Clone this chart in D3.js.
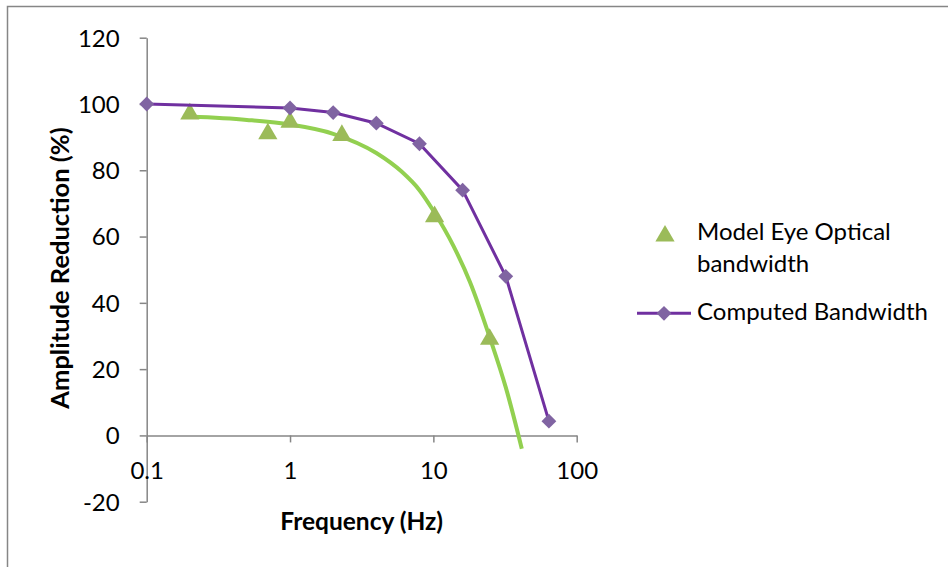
<!DOCTYPE html>
<html>
<head>
<meta charset="utf-8">
<script src="https://cdn.jsdelivr.net/npm/d3@7"></script>
<style>
  html, body { margin: 0; padding: 0; background: #fff; }
  svg { display: block; }
  text { font-family: Lato, "Open Sans", sans-serif; fill: #000; }
</style>
</head>
<body>
<svg id="chart" width="948" height="567"></svg>
<script>
// Measured points: Model Eye Optical bandwidth (triangles)
const modelFreq = [0.2, 0.7, 1, 2.3, 10.2, 24.7];
const modelAmp  = [97.0, 91.0, 94.5, 90.5, 66.0, 29.0];

// Trend curve through the model eye measurements
const trendFreq = [0.2, 0.5, 1, 2, 4, 6, 8, 10, 13.8, 18, 24.9, 32, 41.4];
const trendAmp  = [96.2, 95.2, 93.8, 91.0, 85.2, 79.6, 74.0, 67.8, 57.2, 46.3, 29.2, 14.5, -4.0];

// Computed Bandwidth (diamonds joined by a line)
const compFreq = [0.1, 1, 2, 4, 8, 16, 32, 64];
const compAmp  = [100, 98.8, 97.4, 94.2, 88.0, 74.0, 48.0, 4.3];

// Axis ticks
const yTicks = [-20, 0, 20, 40, 60, 80, 100, 120];
const xTicks = [0.1, 1, 10, 100];
const xTickLabels = ["0.1", "1", "10", "100"];

const seriesNames = ["Model Eye Optical", "bandwidth", "Computed Bandwidth"];

const AXIS = "#868686";
const PURPLE_LINE = "#7030A0";
const PURPLE_MARK = "#8064A2";
const GREEN_MARK = "#9BBB59";
const GREEN_LINE = "#92D050";
const FONT_SIZE = "24px";

const svg = d3.select("#chart");

const x = d3.scaleLog().domain([0.1, 100]).range([146.7, 576.7]);
const y = d3.scaleLinear().domain([-20, 120]).range([501.7, 37.7]);

// outer chart frame (left and top edges visible)
svg.append("path")
  .attr("d", "M7.5,567 L7.5,6.5 L948,6.5")
  .attr("fill", "none").attr("stroke", AXIS).attr("stroke-width", 1.5);

// y axis
const yAxis = svg.append("g")
  .attr("transform", `translate(${x(0.1)},0)`)
  .call(d3.axisLeft(y).tickValues(yTicks).tickFormat(d => String(d))
    .tickSize(7).tickSizeOuter(0).tickPadding(20));
yAxis.selectAll("path, line").attr("stroke", AXIS).attr("stroke-width", 1.5);
yAxis.selectAll("text").style("font-size", FONT_SIZE).style("font-family", "Lato, sans-serif")
  .attr("fill", "#000").attr("dy", "0.35em");

// x axis at zero
const xAxis = svg.append("g")
  .attr("transform", `translate(0,${y(0)})`)
  .call(d3.axisBottom(x).tickValues(xTicks).tickFormat((d, i) => xTickLabels[i])
    .tickSize(7).tickSizeOuter(0));
xAxis.selectAll("path, line").attr("stroke", AXIS).attr("stroke-width", 1.5);
xAxis.selectAll("text").style("font-size", FONT_SIZE).style("font-family", "Lato, sans-serif")
  .attr("fill", "#000").attr("y", 35).attr("dy", "0.35em");

// axis titles
svg.append("text")
  .attr("x", 361.7).attr("y", 530)
  .attr("text-anchor", "middle")
  .style("font-size", "24.5px").style("font-weight", "bold")
  .text("Frequency (Hz)");

svg.append("text")
  .attr("transform", "translate(69,268) rotate(-90)")
  .attr("text-anchor", "middle")
  .style("font-size", "25.5px").style("font-weight", "bold")
  .text("Amplitude Reduction (%)");

// trend curve
const trendData = trendFreq.map((f, i) => [f, trendAmp[i]]);
svg.append("path")
  .datum(trendData)
  .attr("d", d3.line().x(d => x(d[0])).y(d => y(d[1])).curve(d3.curveMonotoneX))
  .attr("fill", "none").attr("stroke", GREEN_LINE).attr("stroke-width", 4);

// model eye triangles
const tri = d3.symbol().type(d3.symbolTriangle).size(160);
svg.append("g").selectAll("path")
  .data(modelFreq.map((f, i) => [f, modelAmp[i]]))
  .join("path")
  .attr("d", tri)
  .attr("transform", d => `translate(${x(d[0])},${y(d[1])})`)
  .attr("fill", GREEN_MARK);

// computed bandwidth line
const compData = compFreq.map((f, i) => [f, compAmp[i]]);
svg.append("path")
  .datum(compData)
  .attr("d", d3.line().x(d => x(d[0])).y(d => y(d[1])))
  .attr("fill", "none").attr("stroke", PURPLE_LINE).attr("stroke-width", 3);

const diamond = d3.symbol().type(d3.symbolSquare).size(110);
svg.append("g").selectAll("path")
  .data(compData)
  .join("path")
  .attr("d", diamond)
  .attr("transform", d => `translate(${x(d[0])},${y(d[1])}) rotate(45)`)
  .attr("fill", PURPLE_MARK);

// legend
const lg = svg.append("g");
lg.append("path").attr("d", tri).attr("transform", "translate(665,236)").attr("fill", GREEN_MARK);
lg.append("text").attr("x", 697).attr("y", 240).style("font-size", FONT_SIZE).text(seriesNames[0]);
lg.append("text").attr("x", 697).attr("y", 272).style("font-size", FONT_SIZE).text(seriesNames[1]);
lg.append("line").attr("x1", 637).attr("x2", 691).attr("y1", 313.3).attr("y2", 313.3)
  .attr("stroke", PURPLE_LINE).attr("stroke-width", 3);
lg.append("path").attr("d", diamond).attr("transform", "translate(664,313.3) rotate(45)").attr("fill", PURPLE_MARK);
lg.append("text").attr("x", 697).attr("y", 320).style("font-size", FONT_SIZE).text(seriesNames[2]);
</script>
</body>
</html>
